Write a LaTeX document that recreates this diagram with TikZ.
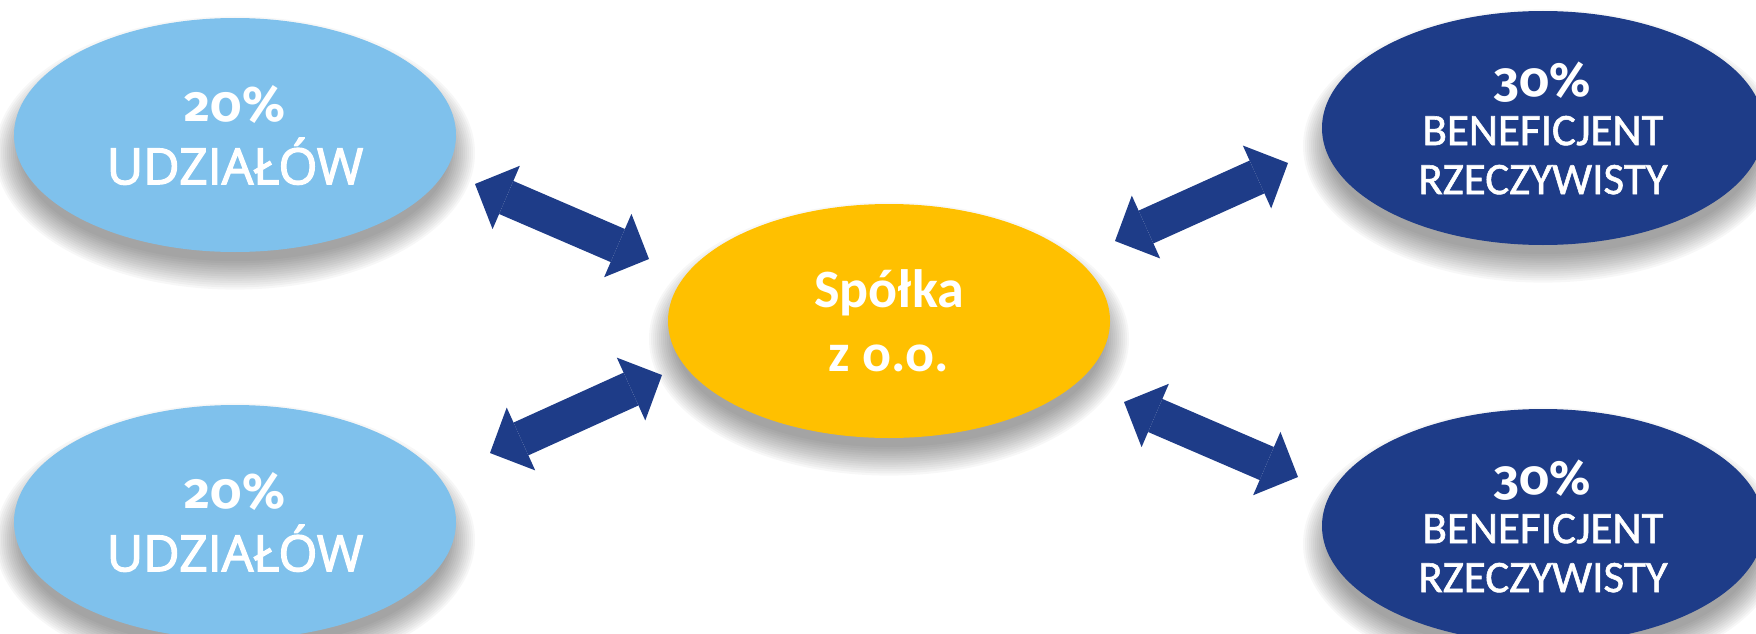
\documentclass[tikz,border=0pt]{standalone}
\usepackage{fontspec}
\setmainfont{Carlito}
\newfontfamily\pctfont[Numbers=OldStyle]{Fira Sans}
\newfontfamily\sharefont[FakeBold=2.5]{Open Sans}
\newfontfamily\ownerfont[FakeBold=1.2]{Carlito}
\usetikzlibrary{shapes.geometric,arrows.meta,backgrounds}
\definecolor{shareblue}{HTML}{7FC1EC}
\definecolor{ownerblue}{HTML}{1E3C88}
\definecolor{firmyellow}{HTML}{FFC000}
\tikzset{
  blob/.style={ellipse, inner sep=0pt,
    minimum width=442pt, minimum height=234pt,
    align=center, text=white},
  share/.style={blob, fill=shareblue, font=\sharefont\fontsize{50}{63}\selectfont},
  owner/.style={blob, fill=ownerblue, font=\ownerfont\fontsize{45}{49}\selectfont},
  firm/.style={blob, fill=firmyellow, font=\fontsize{54}{64}\selectfont\bfseries},
  blurlayer/.style={fill=black, opacity=.03},
  dblarrow/.style={draw=ownerblue, line width=36pt,
    >={Triangle[width=69pt,length=34pt,line width=0pt]}, <->}
}
\begin{document}
\begin{tikzpicture}[x=1pt,y=-1pt]
  \useasboundingbox (0,0) rectangle (1756,634);
  % udzialowcy
  \node[share] (sh1) at (235,135) {{\pctfont\bfseries\fontsize{50}{63}\selectfont 20\%}\\UDZIAŁÓW};
  \node[share] (sh2) at (235,522) {{\pctfont\bfseries\fontsize{50}{63}\selectfont 20\%}\\UDZIAŁÓW};
  % spolka
  \node[firm] (firma) at (889,321) {Spółka\\z o.o.};
  % beneficjenci
  \node[owner] (bn1) at (1543,128) {{\pctfont\bfseries\fontsize{48}{49}\selectfont 30\%}\\BENEFICJENT\\RZECZYWISTY};
  \node[owner] (bn2) at (1543,526) {{\pctfont\bfseries\fontsize{48}{49}\selectfont 30\%}\\BENEFICJENT\\RZECZYWISTY};
  % cienie
  \begin{scope}[on background layer]
    \foreach \n in {sh1,sh2,firma,bn1,bn2}
      \foreach \k in {0,...,13}
        \fill[blurlayer] ([yshift=-18pt]\n.center)
          ellipse [x radius=214+2*\k, y radius=108+2.2*\k];
  \end{scope}
  % strzalki
  \coordinate (a1s) at (475,184);  \coordinate (a1e) at (649,259);
  \coordinate (a2s) at (490,453);  \coordinate (a2e) at (662,375);
  \coordinate (a3s) at (1115,241); \coordinate (a3e) at (1288,163);
  \coordinate (a4s) at (1124,402); \coordinate (a4e) at (1298,477);
  \draw[dblarrow] (a1s) -- (a1e);
  \draw[dblarrow] (a2s) -- (a2e);
  \draw[dblarrow] (a3s) -- (a3e);
  \draw[dblarrow] (a4s) -- (a4e);
\end{tikzpicture}
\end{document}
